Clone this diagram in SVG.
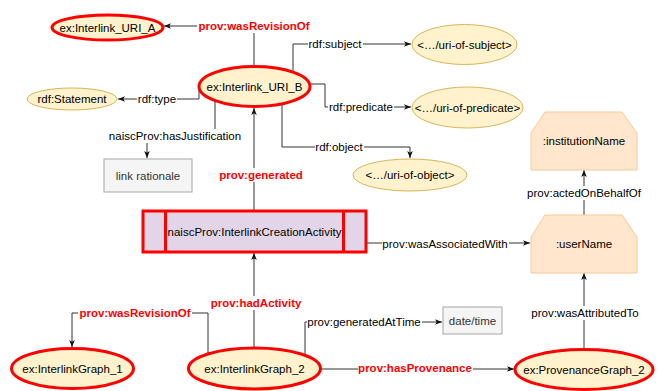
<svg xmlns="http://www.w3.org/2000/svg" width="658" height="391" viewBox="0 0 658 391">
<defs>
<style>
text{font-family:"Liberation Sans",Arial,sans-serif;font-size:11.5px;fill:#000;text-anchor:middle}
.red{fill:#ff0000;font-weight:bold}
.ell{fill:#fff2cc;stroke:#d6b656;stroke-width:1}
.ellr{fill:#fff2cc;stroke:#ff0000;stroke-width:3}
.gray{fill:#f5f5f5;stroke:#a6a6a6;stroke-width:1}
.gt{fill:#333}
.agent{fill:#ffe6cc;stroke:#f7c898;stroke-width:1}
.act{fill:#e1d5e7;stroke:#ff0000;stroke-width:3}
.edge{fill:none;stroke:#333;stroke-width:1}
.lb{fill:#fff}
</style>
<marker id="arr" viewBox="0 0 8 8" refX="8" refY="4" markerWidth="7" markerHeight="7" markerUnits="userSpaceOnUse" orient="auto">
<path d="M0,0.8 L8,4 L0,7.2 L2,4 z" fill="#111"/>
</marker>
</defs>
<rect width="658" height="391" fill="#fff"/>

<g id="connectors">
<path class="edge" d="M254,66 V26 H164" marker-end="url(#arr)"/>
<path class="edge" d="M199,87 V99 H118" marker-end="url(#arr)"/>
<path class="edge" d="M215,100 V136 H147 V158" marker-end="url(#arr)"/>
<path class="edge" d="M254,210 V108" marker-end="url(#arr)"/>
<path class="edge" d="M293,72 V44 H411" marker-end="url(#arr)"/>
<path class="edge" d="M310,84 H325 V107 H411" marker-end="url(#arr)"/>
<path class="edge" d="M282,104 V147 H410 V158" marker-end="url(#arr)"/>
<path class="edge" d="M254,347 V253" marker-end="url(#arr)"/>
<path class="edge" d="M367,243 H530" marker-end="url(#arr)"/>
<path class="edge" d="M208,353 V313 H72 V347" marker-end="url(#arr)"/>
<path class="edge" d="M305,354 V322 H442" marker-end="url(#arr)"/>
<path class="edge" d="M321,369 H514" marker-end="url(#arr)"/>
<path class="edge" d="M584,349 V273" marker-end="url(#arr)"/>
<path class="edge" d="M584,215 V170" marker-end="url(#arr)"/>

<rect class="lb" x="197" y="19" width="114" height="14"/>
<text class="red" x="254" y="30">prov:wasRevisionOf</text>
<rect class="lb" x="137" y="92" width="40" height="14"/>
<text x="157" y="103">rdf:type</text>
<rect class="lb" x="108" y="129" width="134" height="14"/>
<text x="175" y="140">naiscProv:hasJustification</text>
<rect class="lb" x="218" y="168" width="86" height="14"/>
<text class="red" x="261" y="179">prov:generated</text>
<rect class="lb" x="308" y="37" width="55" height="14"/>
<text x="335" y="48">rdf:subject</text>
<rect class="lb" x="328" y="100" width="66" height="14"/>
<text x="361" y="111">rdf:predicate</text>
<rect class="lb" x="315" y="140" width="49" height="14"/>
<text x="339" y="151">rdf:object</text>
<rect class="lb" x="210" y="296" width="92" height="14"/>
<text class="red" x="256" y="307">prov:hadActivity</text>
<rect class="lb" x="382" y="237" width="127" height="14"/>
<text x="445" y="248">prov:wasAssociatedWith</text>
<rect class="lb" x="78" y="306" width="114" height="14"/>
<text class="red" x="135" y="317">prov:wasRevisionOf</text>
<rect class="lb" x="307" y="315" width="115" height="14"/>
<text x="364" y="326">prov:generatedAtTime</text>
<rect class="lb" x="358" y="361" width="115" height="14"/>
<text class="red" x="415" y="372">prov:hasProvenance</text>
<rect class="lb" x="530" y="306" width="110" height="14"/>
<text x="585" y="317">prov:wasAttributedTo</text>
<rect class="lb" x="527" y="186" width="115" height="14"/>
<text x="584" y="197">prov:actedOnBehalfOf</text>
</g>

<g id="uriA">
<ellipse class="ellr" cx="107.5" cy="27.5" rx="55.5" ry="12.5"/>
<text x="107.5" y="31.5">ex:Interlink_URI_A</text>
</g>
<g id="uriB">
<ellipse class="ellr" cx="254.5" cy="86.5" rx="55.5" ry="20"/>
<text x="254.5" y="90.5">ex:Interlink_URI_B</text>
</g>
<g id="statement">
<ellipse class="ell" cx="72" cy="99" rx="45" ry="11"/>
<text x="72" y="103">rdf:Statement</text>
</g>
<g id="rationale">
<rect class="gray" x="104" y="159" width="88" height="33"/>
<text class="gt" x="148" y="179.5">link rationale</text>
</g>
<g id="subject">
<ellipse class="ell" cx="464.5" cy="44.5" rx="52.5" ry="20"/>
<text x="464.5" y="48.5">&lt;…/uri-of-subject&gt;</text>
</g>
<g id="predicate">
<ellipse class="ell" cx="467.5" cy="107.5" rx="55.5" ry="20.5"/>
<text x="467.5" y="111.5">&lt;…/uri-of-predicate&gt;</text>
</g>
<g id="object">
<ellipse class="ell" cx="410" cy="175" rx="57" ry="16"/>
<text x="410" y="179">&lt;…/uri-of-object&gt;</text>
</g>
<g id="activity">
<rect class="act" x="143" y="211" width="223" height="41"/>
<line x1="165.5" y1="211" x2="165.5" y2="252" stroke="#ff0000" stroke-width="3"/>
<line x1="343.5" y1="211" x2="343.5" y2="252" stroke="#ff0000" stroke-width="3"/>
<text x="254.5" y="236">naiscProv:InterlinkCreationActivity</text>
</g>
<g id="institution">
<polygon class="agent" points="545,112 622,112 637,133 637,170 531,170 531,133"/>
<text x="584" y="145">:institutionName</text>
</g>
<g id="user">
<polygon class="agent" points="545,215 622,215 637,237 637,273 531,273 531,237"/>
<text x="584" y="248">:userName</text>
</g>
<g id="datetime">
<rect class="gray" x="443" y="307" width="59" height="27"/>
<text class="gt" x="472.5" y="324.5">date/time</text>
</g>
<g id="graph1">
<ellipse class="ellr" cx="72.5" cy="368.5" rx="61" ry="20"/>
<text x="72.5" y="372.5">ex:InterlinkGraph_1</text>
</g>
<g id="graph2">
<ellipse class="ellr" cx="254.5" cy="368.5" rx="66" ry="20.5"/>
<text x="254.5" y="372.5">ex:InterlinkGraph_2</text>
</g>
<g id="provgraph2">
<ellipse class="ellr" cx="584" cy="369.5" rx="69" ry="20"/>
<text x="584" y="373.5">ex:ProvenanceGraph_2</text>
</g>
</svg>
